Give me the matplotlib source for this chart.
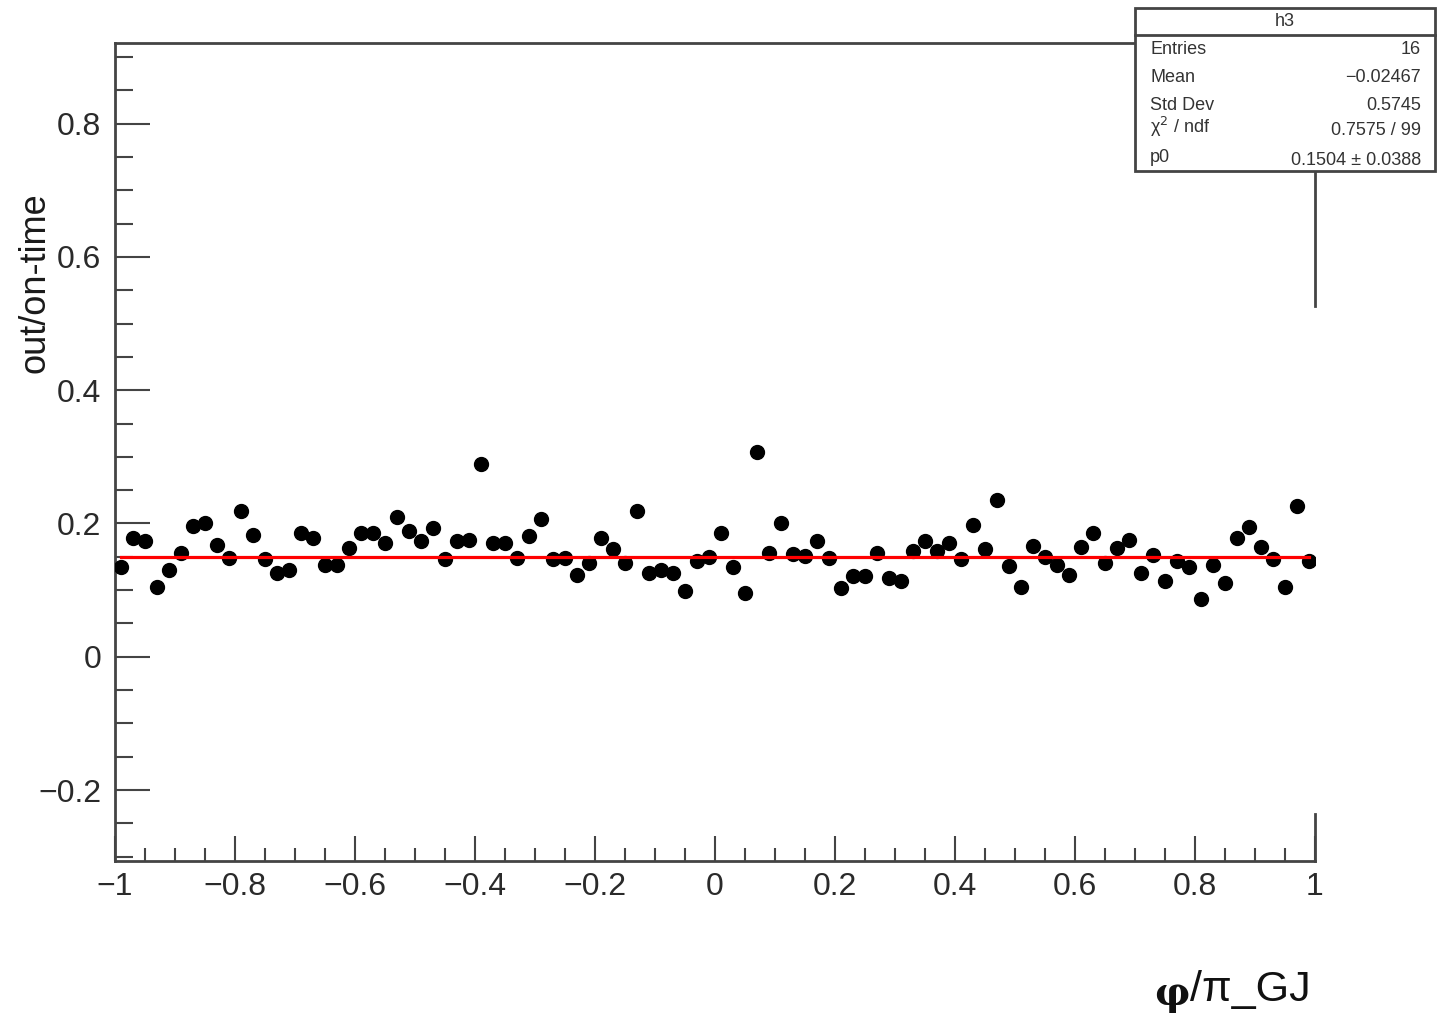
import numpy as np
import matplotlib
matplotlib.use('Agg')
import matplotlib.pyplot as plt
from matplotlib.patches import Rectangle
from matplotlib.lines import Line2D

# histogram h3: 100 bins on [-1, 1]
bin_edges = np.linspace(-1, 1, 101)
ratio = [0.135, 0.178, 0.173, 0.105, 0.130, 0.155, 0.196, 0.200, 0.168, 0.148,
         0.219, 0.183, 0.146, 0.126, 0.130, 0.185, 0.178, 0.138, 0.138, 0.163,
         0.185, 0.185, 0.171, 0.210, 0.189, 0.173, 0.193, 0.146, 0.173, 0.175,
         0.289, 0.171, 0.171, 0.148, 0.181, 0.207, 0.146, 0.148, 0.123, 0.141,
         0.178, 0.161, 0.140, 0.219, 0.126, 0.130, 0.126, 0.098, 0.143, 0.149,
         0.185, 0.134, 0.095, 0.308, 0.156, 0.200, 0.154, 0.151, 0.174, 0.148,
         0.103, 0.121, 0.121, 0.155, 0.118, 0.114, 0.158, 0.174, 0.159, 0.170,
         0.146, 0.198, 0.161, 0.235, 0.136, 0.105, 0.166, 0.150, 0.138, 0.123,
         0.165, 0.185, 0.140, 0.163, 0.175, 0.125, 0.153, 0.114, 0.143, 0.135,
         0.086, 0.138, 0.110, 0.178, 0.195, 0.164, 0.146, 0.104, 0.226, 0.143]
p0 = 0.1504

stat_names = ['Entries', 'Mean', 'Std Dev', 'χ$^2$ / ndf', 'p0']
stat_values = ['16', '\u22120.02467', '0.5745', '0.7575 / 99', '0.1504 \u00b1 0.0388']

x_ticks = [-1, -0.8, -0.6, -0.4, -0.2, 0, 0.2, 0.4, 0.6, 0.8, 1]
y_ticks = [-0.2, 0, 0.2, 0.4, 0.6, 0.8]

plt.rcParams['font.family'] = ['Liberation Sans', 'DejaVu Sans']
plt.rcParams['axes.unicode_minus'] = True
axcol = '#444444'
txtcol = '#2a2a2a'


def fmt(t):
    if t == 0:
        return '0'
    if t in (-1, 1):
        return f'{int(t)}'.replace('-', '\u2212')
    return f'{t:.1f}'.replace('-', '\u2212')


W, H = 1448, 1021
fig = plt.figure(figsize=(14.48, 10.21), dpi=100)
ax = fig.add_axes([115 / W, 1 - 861 / H, 1200 / W, 818 / H])

centers = 0.5 * (bin_edges[:-1] + bin_edges[1:])
ax.plot(centers, ratio, 'o', color='black', markersize=10, zorder=3)
ax.plot([centers[0], centers[-1]], [p0, p0], color='#ff0000', lw=2.3, zorder=4)

ax.set_xlim(-1, 1)
ax.set_ylim(-0.3065, 0.921)
ax.set_xticks(x_ticks)
ax.set_xticklabels([fmt(t) for t in x_ticks])
ax.set_yticks(y_ticks)
ax.set_yticklabels([fmt(t) for t in y_ticks])
ax.set_xticks(np.arange(-1, 1.001, 0.05), minor=True)
ax.set_yticks(np.arange(-0.3, 0.92, 0.05), minor=True)

ax.tick_params(axis='x', which='major', direction='in', length=18, width=1.5, color=axcol,
               labelsize=23, pad=8, top=False, labelcolor=txtcol)
ax.tick_params(axis='x', which='minor', direction='in', length=9.5, width=1.5, color=axcol, top=False)
ax.tick_params(axis='y', which='major', direction='in', length=25, width=1.5, color=axcol,
               labelsize=23, pad=10, right=False, labelcolor=txtcol)
ax.tick_params(axis='y', which='minor', direction='in', length=13, width=1.5, color=axcol, right=False)

for s in ['left', 'bottom', 'top']:
    ax.spines[s].set_color(axcol)
    ax.spines[s].set_linewidth(2)
ax.spines['right'].set_visible(False)
ax.axvline(1, ymin=0.6785, ymax=0.8435, color=axcol, lw=2, clip_on=False)
ax.axvline(1, ymin=0, ymax=0.0575, color=axcol, lw=2, clip_on=False)

fig.text(35 / W, 1 - 283 / H, 'out/on-time', rotation=90, ha='center', va='center',
         fontsize=26, color='#1a1a1a')

# x title: "/π_GJ" right-aligned at the axis end, bold serif φ in front of it
xt = fig.text(1311 / W, 1 - 990 / H, '/π_GJ', ha='right', va='center', fontsize=31,
              color='#111111')
renderer = fig.canvas.get_renderer()
bb = xt.get_window_extent(renderer=renderer)
fig.text((bb.x0 - 1) / W, 1 - 994 / H, 'φ', ha='right', va='center', fontsize=28,
         family=['DejaVu Serif'], fontweight='bold', color='#111111')

# stat box
bx0, bx1, by0, by1 = 1135, 1435, 8, 171
fig.patches.append(Rectangle((bx0 / W, 1 - by1 / H), (bx1 - bx0) / W, (by1 - by0) / H,
                             transform=fig.transFigure, facecolor='white', edgecolor=axcol,
                             lw=2, zorder=10))
fig.lines.append(Line2D([bx0 / W, bx1 / W], [1 - 35 / H, 1 - 35 / H], transform=fig.transFigure,
                        color=axcol, lw=2, zorder=11))
fig.text(1285 / W, 1 - 22 / H, 'h3', ha='center', va='center', fontsize=13, color='#333333', zorder=12)
name_y = [50, 77, 105, 127, 157]
val_y = [50, 77, 105, 130, 160]
for name, val, ny, vy in zip(stat_names, stat_values, name_y, val_y):
    fig.text(1150 / W, 1 - ny / H, name, ha='left', va='center', fontsize=13, color='#333333', zorder=12)
    fig.text(1421 / W, 1 - vy / H, val, ha='right', va='center', fontsize=13, color='#333333', zorder=12)

fig.savefig('out.png', dpi=100)
